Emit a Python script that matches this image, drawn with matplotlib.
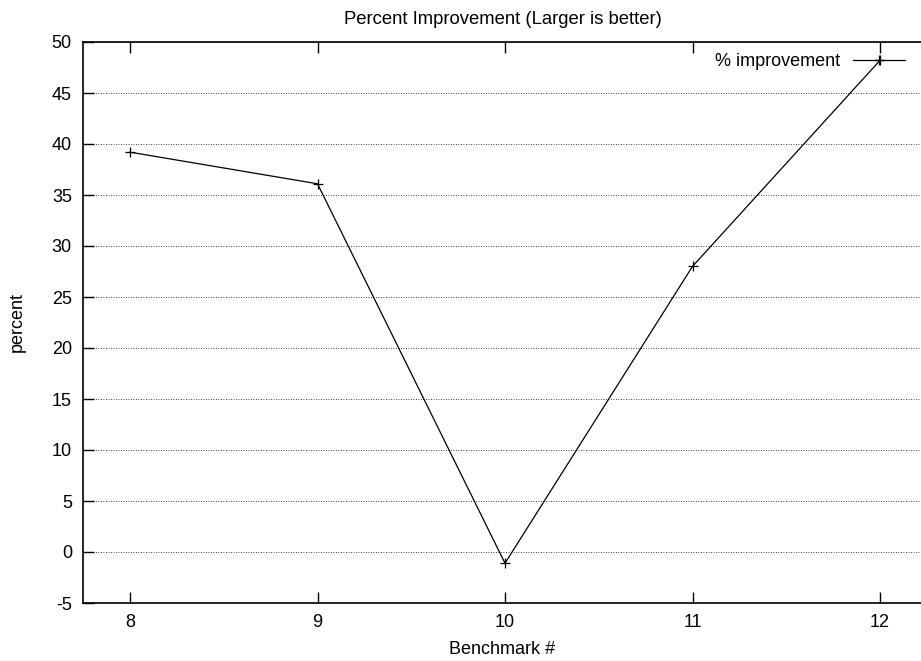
import numpy as np
import matplotlib
matplotlib.use("Agg")
import matplotlib.pyplot as plt

plt.rcParams['font.family'] = ['Liberation Sans', 'DejaVu Sans']
plt.rcParams['font.size'] = 13
plt.rcParams['axes.unicode_minus'] = False

# benchmark number vs percent improvement
benchmarks = [8, 9, 10, 11, 12]
improvement = [39.2, 36.1, -1.1, 28.0, 48.2]
yticks = [-5, 0, 5, 10, 15, 20, 25, 30, 35, 40, 45, 50]

fig = plt.figure(figsize=(9.21, 6.61), dpi=100)
ax = fig.add_axes([83/921, 58/661, 839/921, 561/661])

ax.plot(benchmarks, improvement, color='black', lw=0.9, marker='+',
        markersize=7, markeredgewidth=0.9, label='% improvement')

ax.set_xlim(8 - 47/187.5, 12 + 42/187.5)
ax.set_ylim(-5, 50)
ax.set_xticks(benchmarks)
ax.set_yticks(yticks)
ax.yaxis.grid(True, linestyle=(0, (1, 2)), color='black', lw=0.6)

ax.tick_params(direction='in', length=8, width=1, top=True, right=False,
               labelsize=13, colors='black')
ax.tick_params(axis='y', pad=8)
ax.tick_params(axis='x', pad=8)
for s in ax.spines.values():
    s.set_linewidth(1.2)

ax.set_title('Percent Improvement (Larger is better)', fontsize=13.3, pad=13)
ax.set_xlabel('Benchmark #', fontsize=13, labelpad=7)
ax.set_ylabel('percent', fontsize=13, labelpad=19)

ax.legend(loc='upper right', bbox_to_anchor=(905/921, 1 - 53/661),
          bbox_transform=fig.transFigure, frameon=False, markerfirst=False,
          handlelength=2.9, handletextpad=0.7, borderpad=0, borderaxespad=0,
          numpoints=1, fontsize=13)

fig.savefig('out.png', dpi=100)
